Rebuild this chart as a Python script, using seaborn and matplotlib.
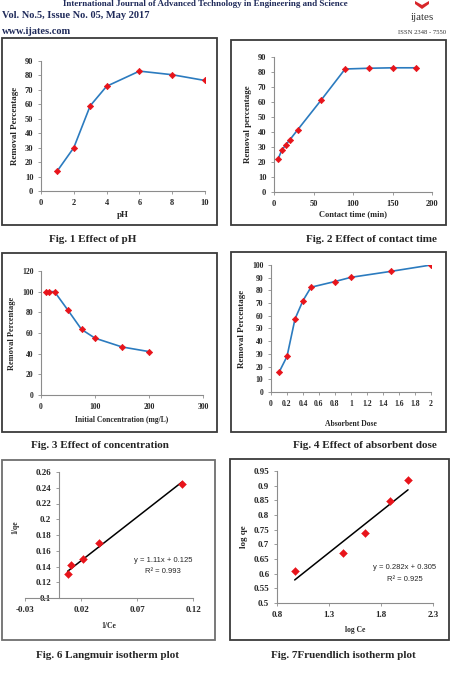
import numpy as np
import pandas as pd
import matplotlib.pyplot as plt
import seaborn as sns
from matplotlib.patches import Rectangle, Polygon
from matplotlib.ticker import FuncFormatter

W, H = 453, 687

# Fig. 1 effect of pH
ph = [1, 2, 3, 4, 6, 8, 10]
ph_removal = [14, 30, 59, 72.5, 83, 80.5, 76.5]

# Fig. 2 effect of contact time
contact_time = [5, 10, 15, 20, 30, 60, 90, 120, 150, 180]
time_removal = [21.8, 28, 31.5, 34.8, 41.5, 61.5, 82, 82.5, 82.8, 82.8]

# Fig. 3 effect of concentration
init_conc = [10, 15, 25, 50, 75, 100, 150, 200]
conc_removal = [100, 100, 100, 82, 63.5, 55, 46.5, 42]

# Fig. 4 effect of absorbent dose
dose = [0.1, 0.2, 0.3, 0.4, 0.5, 0.8, 1.0, 1.5, 2.0]
dose_removal = [15.5, 28, 57.5, 72, 82.5, 87, 90.3, 95, 100]

# Fig. 6 Langmuir
inv_ce = [0.008, 0.0115, 0.0215, 0.036, 0.110]
inv_qe = [0.130, 0.142, 0.150, 0.170, 0.245]
lang_slope, lang_icpt, lang_r2 = 1.11, 0.125, 0.993

# Fig. 7 Freundlich
log_ce = [0.97, 1.435, 1.65, 1.89, 2.06]
log_qe = [0.610, 0.672, 0.738, 0.847, 0.920]
fr_slope, fr_icpt, fr_r2 = 0.282, 0.305, 0.925

sns.set_theme(style='ticks')
plt.rcParams['font.family'] = ['Liberation Serif', 'DejaVu Serif']
plt.rcParams['font.weight'] = 'bold'
plt.rcParams['axes.labelweight'] = 'bold'

BLUE = '#2B7BBF'
RED = '#E8141B'
AXC = '#8c8c8c'

fig = plt.figure(figsize=(W / 100, H / 100), dpi=100)
fig.patch.set_facecolor('white')


def add_ax(x0, x1, ytop, ybot):
    return fig.add_axes([x0 / W, 1 - ybot / H, (x1 - x0) / W, (ybot - ytop) / H])


def box(x0, x1, ytop, ybot, color='#3a3a3a'):
    fig.patches.append(Rectangle((x0 / W, 1 - ybot / H), (x1 - x0) / W, (ybot - ytop) / H,
                                 transform=fig.transFigure, fill=False,
                                 edgecolor=color, linewidth=1.3))


def excel_style(ax, size=6):
    ax.set_facecolor('none')
    sns.despine(ax=ax)
    for s in ['left', 'bottom']:
        ax.spines[s].set_color(AXC)
        ax.spines[s].set_linewidth(0.8)
    ax.tick_params(length=2.5, width=0.6, color=AXC, labelsize=size, pad=3)
    for lab in ax.get_xticklabels() + ax.get_yticklabels():
        lab.set_fontweight('bold')


def caption(txt, x, y):
    fig.text(x / W, 1 - y / H, txt, ha='center', va='center', fontsize=8, fontweight='bold')


fmt = FuncFormatter(lambda v, p: f'{v:g}')


def curve(ax, x, y):
    sns.lineplot(x=x, y=y, ax=ax, color=BLUE, lw=1.2, marker='D', ms=3.2,
                 mfc=RED, mec=RED, mew=0.5)


# ---- Fig. 1
box(2, 217, 38, 225)
ax1 = add_ax(41, 205, 61, 191)
curve(ax1, ph, ph_removal)
ax1.set_xlim(0, 10)
ax1.set_ylim(0, 90)
ax1.set_xticks(range(0, 11, 2))
ax1.set_yticks(range(0, 91, 10))
ax1.set_xlabel('pH', fontsize=6.5, labelpad=3)
ax1.set_ylabel('Removal Percentage', fontsize=6.5, labelpad=4)
excel_style(ax1)
caption('Fig. 1 Effect of pH', 93, 239)

# ---- Fig. 2
box(231, 446, 40, 225)
ax2 = add_ax(274, 432, 57, 192)
curve(ax2, contact_time, time_removal)
ax2.set_xlim(0, 200)
ax2.set_ylim(0, 90)
ax2.set_xticks(range(0, 201, 50))
ax2.set_yticks(range(0, 91, 10))
ax2.set_xlabel('Contact time (min)', fontsize=6, labelpad=2)
ax2.set_ylabel('Removal percentage', fontsize=6.5, labelpad=4)
excel_style(ax2)
caption('Fig. 2 Effect of contact time', 371, 239)

# ---- Fig. 3
box(2, 217, 253, 432)
ax3 = add_ax(41, 203, 271, 395)
curve(ax3, init_conc, conc_removal)
ax3.set_xlim(0, 300)
ax3.set_ylim(0, 120)
ax3.set_xticks(range(0, 301, 100))
ax3.set_yticks(range(0, 121, 20))
ax3.set_xlabel('Initial Concentration (mg/L)', fontsize=5.5, labelpad=4)
ax3.set_ylabel('Removal Percentage', fontsize=6, labelpad=4)
excel_style(ax3, 5.5)
caption('Fig. 3 Effect of concentration', 100, 445)

# ---- Fig. 4
box(231, 446, 252, 432)
ax4 = add_ax(271, 431, 265, 392)
curve(ax4, dose, dose_removal)
ax4.set_xlim(0, 2)
ax4.set_ylim(0, 100)
ax4.set_xticks(np.arange(0, 2.01, 0.2))
ax4.xaxis.set_major_formatter(fmt)
ax4.set_yticks(range(0, 101, 10))
ax4.set_xlabel('Absorbent Dose', fontsize=5.5, labelpad=9)
ax4.set_ylabel('Removal Percentage', fontsize=6.5, labelpad=4)
excel_style(ax4, 5.5)
caption('Fig. 4 Effect of absorbent dose', 365, 445)

# ---- Fig. 6 Langmuir
box(2, 215, 460, 640, color='#6e6e6e')
ax6 = add_ax(25, 193, 472, 598)
fit_x = [min(inv_ce), max(inv_ce)]
sns.lineplot(x=fit_x, y=[lang_slope * v + lang_icpt for v in fit_x], ax=ax6, color='black', lw=1.1)
sns.scatterplot(x=inv_ce, y=inv_qe, ax=ax6, marker='D', s=16, color=RED, edgecolor=RED, zorder=3)
ax6.set_xlim(-0.03, 0.12)
ax6.set_ylim(0.1, 0.26)
ax6.set_xticks([-0.03, 0.02, 0.07, 0.12])
ax6.set_yticks(np.arange(0.1, 0.2601, 0.02))
ax6.xaxis.set_major_formatter(fmt)
ax6.yaxis.set_major_formatter(FuncFormatter(lambda v, p: f'{round(v, 2):g}'))
ax6.spines['left'].set_position(('data', 0))
ax6.set_xlabel('1/Ce', fontsize=5.5, labelpad=6)
ax6.set_ylabel('')
fig.text(15 / W, 1 - 527 / H, '1/qe', rotation=90, ha='center', va='center', fontsize=5.5, fontweight='bold')
excel_style(ax6, 6.5)
ax6.text(0.82, 0.30, f'y = {lang_slope:g}x + {lang_icpt:g}', transform=ax6.transAxes,
         ha='center', va='center', fontsize=5.5, family='Liberation Sans', fontweight='normal')
ax6.text(0.82, 0.21, f'R² = {lang_r2:g}', transform=ax6.transAxes,
         ha='center', va='center', fontsize=5.5, family='Liberation Sans', fontweight='normal')
caption('Fig. 6 Langmuir isotherm plot', 107, 655)

# ---- Fig. 7 Freundlich
box(230, 449, 459, 640)
ax7 = add_ax(277, 433, 471, 603)
fit_x = [min(log_ce), max(log_ce)]
sns.lineplot(x=fit_x, y=[fr_slope * v + fr_icpt for v in fit_x], ax=ax7, color='black', lw=1.1)
sns.scatterplot(x=log_ce, y=log_qe, ax=ax7, marker='D', s=16, color=RED, edgecolor=RED, zorder=3)
ax7.set_xlim(0.8, 2.3)
ax7.set_ylim(0.5, 0.95)
ax7.set_xticks([0.8, 1.3, 1.8, 2.3])
ax7.set_yticks(np.arange(0.5, 0.9501, 0.05))
ax7.xaxis.set_major_formatter(fmt)
ax7.yaxis.set_major_formatter(FuncFormatter(lambda v, p: f'{round(v, 2):g}'))
ax7.set_xlabel('log Ce', fontsize=5.5, labelpad=5)
ax7.set_ylabel('log qe', fontsize=6.5, labelpad=4)
excel_style(ax7, 6.5)
ax7.text(0.82, 0.27, f'y = {fr_slope:g}x + {fr_icpt:g}', transform=ax7.transAxes,
         ha='center', va='center', fontsize=5.5, family='Liberation Sans', fontweight='normal')
ax7.text(0.82, 0.18, f'R² = {fr_r2:g}', transform=ax7.transAxes,
         ha='center', va='center', fontsize=5.5, family='Liberation Sans', fontweight='normal')
caption('Fig. 7Fruendlich isotherm plot', 343, 655)

# ---- page header
fig.text(205 / W, 1 - 0.5 / H, 'International Journal of Advanced Technology in Engineering and Science',
         ha='center', va='top', fontsize=6.5, fontweight='bold', color='#1f2a5a')
fig.text(2 / W, 1 - 15 / H, 'Vol. No.5, Issue No. 05, May 2017', ha='left', va='center',
         fontsize=7.5, fontweight='bold', color='#1f2a5a')
fig.text(2 / W, 1 - 32 / H, 'www.ijates.com', ha='left', va='center',
         fontsize=7.5, fontweight='bold', color='#1f2a5a')
fig.text(422 / W, 1 - 18 / H, 'ijates', ha='center', va='center',
         fontsize=8, fontweight='normal', color='#333333')
fig.text(422 / W, 1 - 33 / H, 'ISSN 2348 - 7550', ha='center', va='center',
         fontsize=4.8, fontweight='normal', color='#333333')
fig.patches.append(Polygon([(415 / W, 1 - 1 / H), (422 / W, 1 - 5 / H), (429 / W, 1 - 1 / H),
                            (429 / W, 1 - 4 / H), (422 / W, 1 - 9 / H), (415 / W, 1 - 4 / H)],
                           closed=True, transform=fig.transFigure, facecolor='#d8262a',
                           edgecolor='none'))

fig.savefig('out.png', dpi=100)
